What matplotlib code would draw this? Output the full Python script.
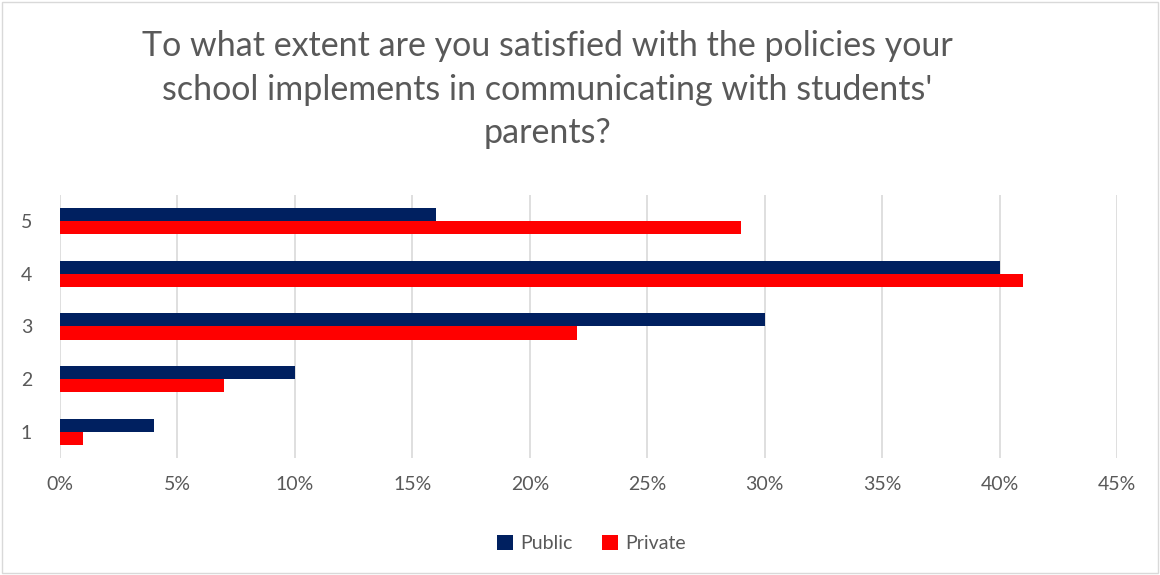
import numpy as np
import matplotlib.pyplot as plt
from matplotlib.ticker import PercentFormatter
from matplotlib.patches import Rectangle

# data
categories = ["1", "2", "3", "4", "5"]
public = [4, 10, 30, 40, 16]
private = [1, 7, 22, 41, 29]
xticks = [0, 5, 10, 15, 20, 25, 30, 35, 40, 45]

plt.rcParams['font.family'] = ['Lato', 'DejaVu Sans']
grey = "#595959"

fig = plt.figure(figsize=(11.6, 5.75), dpi=100)
ax = fig.add_axes([0.0517, 0.2035, 0.9113, 0.4575])

y = np.arange(len(categories))
h = 0.25
ax.barh(y + h / 2, public, height=h, color="#002060", label="Public", zorder=3)
ax.barh(y - h / 2, private, height=h, color="#ff0000", label="Private", zorder=3)

ax.set_xlim(0, 45)
ax.set_ylim(-0.5, 4.5)
ax.set_xticks(xticks)
ax.xaxis.set_major_formatter(PercentFormatter(decimals=0))
ax.set_yticks(y)
ax.set_yticklabels(categories)
ax.grid(axis="x", color="#d9d9d9", linewidth=1.2, zorder=0)
for s in ax.spines.values():
    s.set_visible(False)
ax.tick_params(length=0, labelsize=14, colors=grey)
ax.tick_params(axis="x", pad=13)
ax.tick_params(axis="y", pad=20)

fig.text(0.472, 0.948,
         "To what extent are you satisfied with the policies your\n"
         "school implements in communicating with students'\nparents?",
         ha="center", va="top", fontsize=24.5, color=grey, linespacing=1.45)

ax.legend(loc="center", bbox_to_anchor=(0.51, 0.055), bbox_transform=fig.transFigure,
          ncol=2, frameon=False, fontsize=14, labelcolor=grey,
          handlelength=0.8, handleheight=0.8, handletextpad=0.4, columnspacing=1.5)

fig.patches.append(Rectangle((0.002, 0.003), 0.996, 0.994, transform=fig.transFigure,
                             fill=False, edgecolor="#d9d9d9", linewidth=1))

fig.savefig("out.png", dpi=100)
